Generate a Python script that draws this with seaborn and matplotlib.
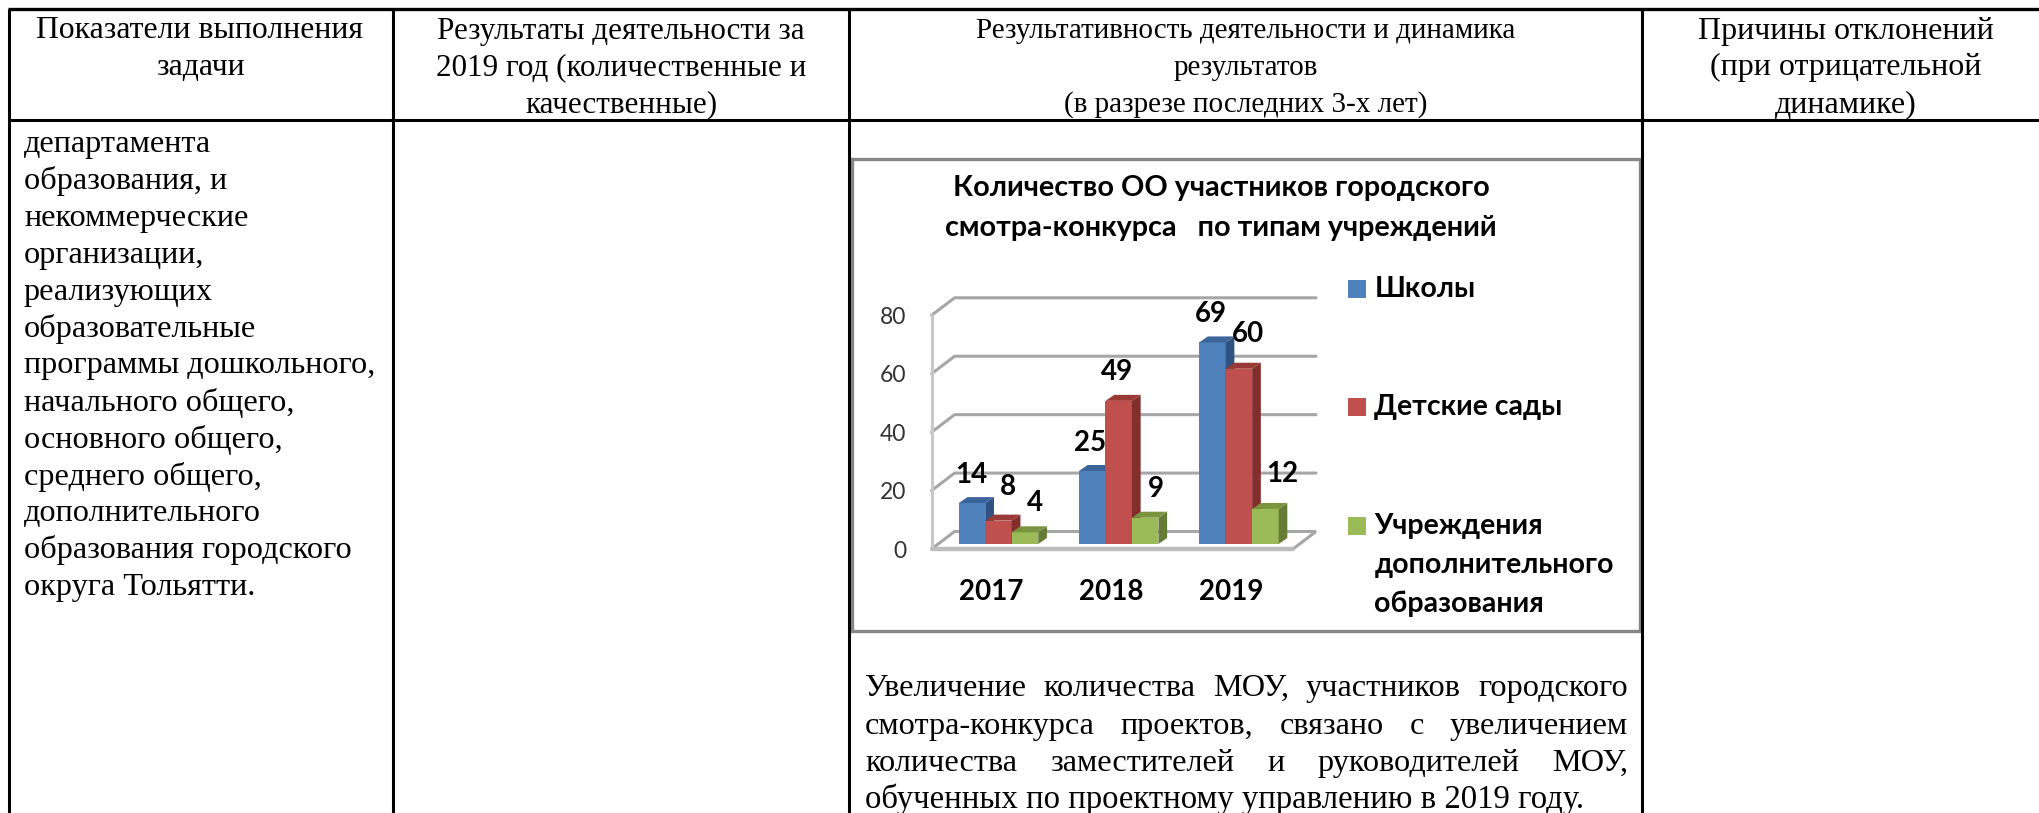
import pandas as pd
import matplotlib
matplotlib.use("Agg")
import matplotlib.pyplot as plt
import seaborn as sns
from matplotlib.patches import Polygon, Rectangle
from matplotlib.transforms import ScaledTranslation

years = ["2017", "2018", "2019"]
series_names = ["Школы", "Детские сады", "Учреждения\nдополнительного\nобразования"]
schools = [14, 25, 69]
kindergartens = [8, 49, 60]
extra_edu = [4, 9, 12]
y_ticks = [0, 20, 40, 60, 80]
chart_title = "Количество ОО участников городского\nсмотра-конкурса   по типам учреждений"

headers = ["Показатели выполнения\nзадачи",
           "Результаты деятельности за\n2019 год (количественные и\nкачественные)",
           "Результативность деятельности и динамика\nрезультатов\n(в разрезе последних 3-х лет)",
           "Причины отклонений\n(при отрицательной\nдинамике)"]
left_lines = ["департамента", "образования, и", "некоммерческие", "организации,", "реализующих",
              "образовательные", "программы дошкольного,", "начального общего,", "основного общего,",
              "среднего общего,", "дополнительного", "образования городского", "округа Тольятти."]
note_lines = ["Увеличение количества МОУ, участников городского",
              "смотра-конкурса проектов, связано с увеличением",
              "количества заместителей и руководителей МОУ,",
              "обученных по проектному управлению в 2019 году."]

colors = ["#4F81BD", "#C0504D", "#9BBB59"]
top_colors = ["#3B659A", "#9A3A37", "#7A9440"]
side_colors = ["#2F5280", "#822E2B", "#667C36"]

W, H = 2040, 813
sns.set_theme(style="white")
plt.rcParams["font.family"] = ["Liberation Serif", "DejaVu Serif"]
fig = plt.figure(figsize=(W / 100, H / 100), dpi=100)

# table and frame, in pixel coords
page = fig.add_axes([0, 0, 1, 1], zorder=0)
page.set_xlim(0, W)
page.set_ylim(H, 0)
page.axis("off")
col_x = [9, 393, 849, 1642]
centers = [200, 621, 1245.5, 1846]
header_sizes = [22.9, 22.4, 21.0, 23.0]
for x in col_x:
    page.plot([x, x], [9, H], color="black", lw=2.2, solid_capstyle="butt")
page.plot([8, W], [9, 9], color="black", lw=2.4, solid_capstyle="butt")
page.plot([8, W], [120, 120], color="black", lw=2.2, solid_capstyle="butt")

table_size = 23.2
for cx, head, size in zip(centers, headers, header_sizes):
    for j, line in enumerate(head.split("\n")):
        page.text(cx, 31 + j * 36.8, line, ha="center", va="center", fontsize=size, color="black")
for i, line in enumerate(left_lines):
    page.text(24, 144.5 + i * 36.9, line, ha="left", va="center", fontsize=table_size, color="black")

page.add_patch(Rectangle((852, 159), 788, 472, fill=False, ec="#868686", lw=2.4))


def justified(ax, line, x0, x1, y, size):
    # spread the words over the column width
    words = line.split()
    rend = fig.canvas.get_renderer()
    items = [ax.text(x0, y, w, ha="left", va="center", fontsize=size, color="black") for w in words]
    widths = [t.get_window_extent(rend).width for t in items]
    gap = (x1 - x0 - sum(widths)) / (len(words) - 1)
    x = x0
    for t, w in zip(items, widths):
        t.set_x(x)
        x += w + gap


note_y = [688, 726, 763, 799]
for line, y in zip(note_lines[:3], note_y[:3]):
    justified(page, line, 865, 1628, y, table_size)
page.text(865, note_y[3], note_lines[3], ha="left", va="center", fontsize=23.6, color="black")

# chart
df = pd.DataFrame({
    "year": years * 3,
    "type": [series_names[0]] * 3 + [series_names[1]] * 3 + [series_names[2]] * 3,
    "value": schools + kindergartens + extra_edu,
})

ax_l, ax_r, ax_top, ax_bot = 931.6, 1293, 310.3, 544
ax = fig.add_axes([ax_l / W, 1 - ax_bot / H, (ax_r - ax_l) / W, (ax_bot - ax_top) / H], zorder=2)
ax.patch.set_alpha(0)
sns.barplot(data=df, x="year", y="value", hue="type", palette=colors, width=0.661, gap=0,
            saturation=1, legend=False, ax=ax, zorder=5, linewidth=0)
px_per_cat = 120.2
ax.set_xlim((ax_l - 998.5) / px_per_cat, (ax_r - 998.5) / px_per_cat)
ax.set_ylim(0, 80)
px_per_val = (ax_bot - ax_top) / 80
for s in ax.spines.values():
    s.set_visible(False)
ax.set_xlabel("")
ax.set_ylabel("")

# the bars only, before any extra shapes get added
bar_patches = [p for p in ax.patches if p.get_height() > 0]

chart_font = "Lato"
grid_c = "#A6A6A6"
wall_dx = 23 / px_per_cat
wall_dy = 17.5 / px_per_val
front = -5 / px_per_val
x0, x1 = ax.get_xlim()

# back wall lines and floor
for v in y_ticks:
    y = v + front
    if v == 0:
        continue
    ax.plot([x0, x0 + wall_dx, x1 + wall_dx], [y, y + wall_dy, y + wall_dy],
            color=grid_c, lw=2.2, clip_on=False, zorder=1)
ax.add_patch(Polygon([(x0, front), (x0 + wall_dx, front + wall_dy), (x1 + wall_dx, front + wall_dy), (x1, front)],
                     closed=True, fc="white", ec=grid_c, lw=2.2, clip_on=False, zorder=1))
ax.plot([x0, x0], [front, 80 + front], color="#C8C8C8", lw=2.2, clip_on=False, zorder=1)
ax.plot([x0, x1], [front, front], color="#BDBDBD", lw=3.2, clip_on=False, zorder=1)

# fake 3d on the bars
bar_dx = 8.7 / px_per_cat
bar_dy = 6 / px_per_val
bars = [(p, i // len(years)) for i, p in enumerate(bar_patches)]
bars = sorted(bars, key=lambda b: b[0].get_x())
for order, (p, s_idx) in enumerate(bars):
    bx, bw, bh = p.get_x(), p.get_width(), p.get_height()
    z = 5 + order
    p.set_zorder(z)
    p.set_clip_on(False)
    ax.add_patch(Polygon([(bx + bw, 0), (bx + bw + bar_dx, bar_dy), (bx + bw + bar_dx, bh + bar_dy), (bx + bw, bh)],
                         closed=True, fc=side_colors[s_idx], ec="none", clip_on=False, zorder=z))
    ax.add_patch(Polygon([(bx, bh), (bx + bar_dx, bh + bar_dy), (bx + bw + bar_dx, bh + bar_dy), (bx + bw, bh)],
                         closed=True, fc=top_colors[s_idx], ec="none", clip_on=False, zorder=z))

# value labels sit at hand-read offsets from the bar top
label_offsets = {(0, 0): (-1, 28), (0, 1): (9, 34), (0, 2): (10, 29),
                 (1, 0): (-2, 28), (1, 1): (-2, 29), (1, 2): (11, 29),
                 (2, 0): (-2, 28), (2, 1): (9, 35), (2, 2): (17, 35)}
for i, p in enumerate(bar_patches):
    s_idx, y_idx = i // 3, i % 3
    ax.annotate(str(int(p.get_height())), xy=(p.get_x() + p.get_width() / 2, p.get_height()),
                xytext=label_offsets[(y_idx, s_idx)], textcoords="offset pixels",
                ha="center", va="center", fontsize=20, fontweight="bold",
                family=chart_font, color="black", annotation_clip=False, zorder=30)

ax.set_yticks(y_ticks)
ax.set_yticklabels([str(v) for v in y_ticks], family=chart_font, fontsize=16.5, color="#333333")
ax.set_xticks(range(len(years)))
ax.set_xticklabels(years, family=chart_font, fontsize=20, fontweight="bold", color="black")
ax.tick_params(axis="both", length=0)
ax.tick_params(axis="y", pad=18)
ax.tick_params(axis="x", pad=25)
shift_y = ScaledTranslation(0, -5 / 100, fig.dpi_scale_trans)
for t in ax.get_yticklabels():
    t.set_transform(t.get_transform() + shift_y)
shift_x = ScaledTranslation(-7.5 / 100, 0, fig.dpi_scale_trans)
for t in ax.get_xticklabels():
    t.set_transform(t.get_transform() + shift_x)

ax.set_title(chart_title, x=(1221 - ax_l) / (ax_r - ax_l), y=(ax_bot - 175) / (ax_bot - ax_top), pad=0,
             family=chart_font, fontsize=20.7, fontweight="bold", color="black", linespacing=1.65, va="top")

# legend by hand, the squares sit on the first line of each entry
legend_y = [289, 407, 526]
for name, c, y in zip(series_names, colors, legend_y):
    page.add_patch(Rectangle((1348.5, y - 9), 18, 18, fc=c, ec="none"))
    for j, part in enumerate(name.split("\n")):
        page.text(1374.5, y + j * 38.8, part, ha="left", va="center", fontsize=20.5, fontweight="bold",
                  family=chart_font, color="black")

fig.savefig("out.png", dpi=100)
